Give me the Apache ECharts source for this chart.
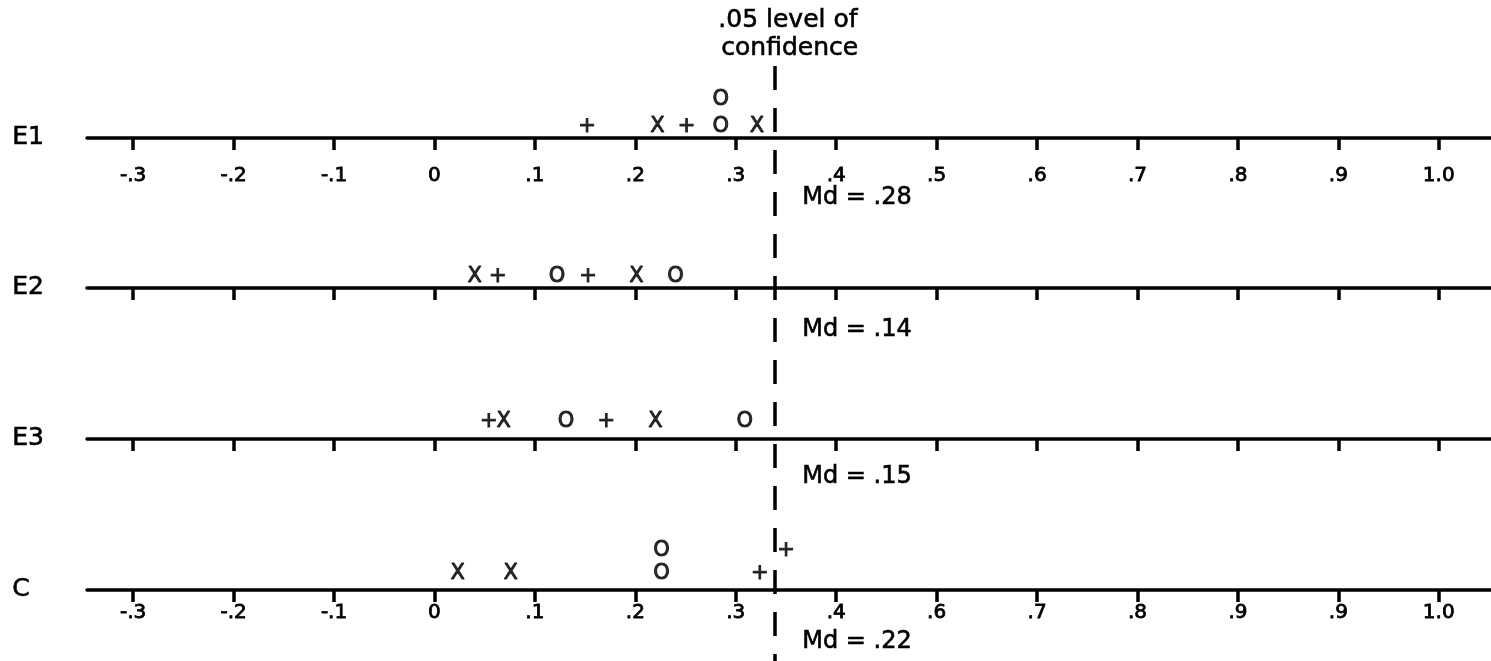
<!DOCTYPE html>
<html>
<head>
<meta charset="utf-8">
<title>Md by group</title>
<script src="https://cdn.jsdelivr.net/npm/echarts@6/dist/echarts.min.js"></script>
<style>
  html, body { margin: 0; padding: 0; background: #fff; }
  #chart { width: 1491px; height: 661px; }
</style>
</head>
<body>
<div id="chart"></div>
<script>
// Group rows, top to bottom
const rowNames = ['E1', 'E2', 'E3', 'C'];

// Tick positions and their printed labels (upper scale and lower scale)
const tickValues = [-0.3, -0.2, -0.1, 0, 0.1, 0.2, 0.3, 0.4, 0.5, 0.6, 0.7, 0.8, 0.9, 1.0];
const upperTickLabels = ['-.3', '-.2', '-.1', '0', '.1', '.2', '.3', '.4', '.5', '.6', '.7', '.8', '.9', '1.0'];
const lowerTickLabels = ['-.3', '-.2', '-.1', '0', '.1', '.2', '.3', '.4', '.6', '.7', '.8', '.9', '.9', '1.0'];

// Marks per row: [value, glyph, stack level]
const e1Marks = [[0.152, '+', 0], [0.222, 'X', 0], [0.251, '+', 0], [0.285, 'O', 0], [0.285, 'O', 1], [0.321, 'X', 0]];
const e2Marks = [[0.040, 'X', 0], [0.063, '+', 0], [0.122, 'O', 0], [0.153, '+', 0], [0.201, 'X', 0], [0.240, 'O', 0]];
const e3Marks = [[0.054, '+', 0], [0.069, 'X', 0], [0.131, 'O', 0], [0.171, '+', 0], [0.220, 'X', 0], [0.309, 'O', 0]];
const cMarks  = [[0.023, 'X', 0], [0.076, 'X', 0], [0.226, 'O', 0], [0.226, 'O', 1], [0.324, '+', 0], [0.350, '+', 1]];

// Medians per row and the .05 confidence cut-off
const medians = [0.28, 0.14, 0.15, 0.22];
const confidenceCut = 0.339;

const rowMarks = [e1Marks, e2Marks, e3Marks, cMarks];

// ---- layout ----
const FONT = 'DejaVu Sans';
const axisLineY = [138, 288, 439, 590];
const baseLift = [0.44, 0.44, 0.66, 0.7];   // marker baseline offset (in stack units)
const stackPx = [27, 26, 26, 23];
const rowH = 60;
const X_MIN = -0.346, X_MAX = 1.052;
const LEFT = 87;

function fmtTick(labels) {
  return function (v) {
    const i = tickValues.findIndex(t => Math.abs(t - v) < 1e-6);
    return i >= 0 ? labels[i] : '';
  };
}
function fmtMd(v) {
  return 'Md = ' + v.toFixed(2).replace(/^0/, '');
}

const grids = [], xAxes = [], yAxes = [], series = [];

rowNames.forEach((name, i) => {
  grids.push({ left: LEFT, right: 0, top: axisLineY[i] - rowH, height: rowH });
  const labelled = (i === 0 || i === 3);
  xAxes.push({
    gridIndex: i, type: 'value', min: X_MIN, max: X_MAX, position: 'bottom',
    axisLine: { show: true, onZero: false, lineStyle: { color: '#000', width: 3.5 } },
    axisTick: { show: true, inside: false, length: 12, customValues: tickValues,
                lineStyle: { color: '#000', width: 3.5 } },
    axisLabel: { show: labelled, customValues: tickValues,
                 formatter: fmtTick(i === 0 ? upperTickLabels : lowerTickLabels),
                 margin: i === 0 ? 28 : 13, color: '#000', fontSize: 20, fontFamily: FONT,
                 textBorderColor: '#000', textBorderWidth: 0.8 },
    splitLine: { show: false }
  });
  const minY = -baseLift[i];
  yAxes.push({ gridIndex: i, type: 'value', show: false,
               min: minY, max: minY + rowH / stackPx[i] });
  series.push({
    type: 'scatter', xAxisIndex: i, yAxisIndex: i,
    symbol: 'circle', symbolSize: 1, silent: true,
    itemStyle: { color: 'rgba(0,0,0,0)' },
    label: { show: true, position: 'inside', formatter: '{b}',
             color: '#000', fontSize: 21, fontFamily: FONT,
             textBorderColor: '#000', textBorderWidth: 1 },
    data: rowMarks[i].map(m => ({ name: m[1], value: [m[0], m[2]] }))
  });
});

// Overlay grid carrying the dashed confidence line across all rows
grids.push({ left: LEFT, right: 0, top: 66, bottom: 0 });
xAxes.push({ gridIndex: 4, type: 'value', min: X_MIN, max: X_MAX, show: false });
yAxes.push({ gridIndex: 4, type: 'value', min: 0, max: 1, show: false });
series.push({
  type: 'scatter', xAxisIndex: 4, yAxisIndex: 4, data: [], silent: true,
  markLine: {
    silent: true, symbol: ['none', 'none'], label: { show: false },
    lineStyle: { color: '#000', width: 3.5, type: [24, 18] },
    data: [[{ coord: [confidenceCut, 1] }, { coord: [confidenceCut, 0] }]]
  }
});

// Text: header, row names, medians
const textStyle = (text, size) => ({
  text, font: size + 'px ' + FONT, fill: '#000', stroke: '#000', lineWidth: 0.6
});
const mdY = [199, 331, 478, 643];
const graphic = [
  { type: 'text', left: 718, top: 8, style: textStyle('.05 level of', 25) },
  { type: 'text', left: 721, top: 36, style: textStyle('confidence', 25) }
];
rowNames.forEach((name, i) => {
  graphic.push({ type: 'text', left: 12, top: axisLineY[i] - 13, style: textStyle(name, 25) });
  graphic.push({ type: 'text', left: 802, top: mdY[i] - 14, style: textStyle(fmtMd(medians[i]), 24) });
});

const chart = echarts.init(document.getElementById('chart'), null, { renderer: 'canvas' });
chart.setOption({
  backgroundColor: '#fff',
  animation: false,
  grid: grids,
  xAxis: xAxes,
  yAxis: yAxes,
  series: series,
  graphic: graphic
});
</script>
</body>
</html>
